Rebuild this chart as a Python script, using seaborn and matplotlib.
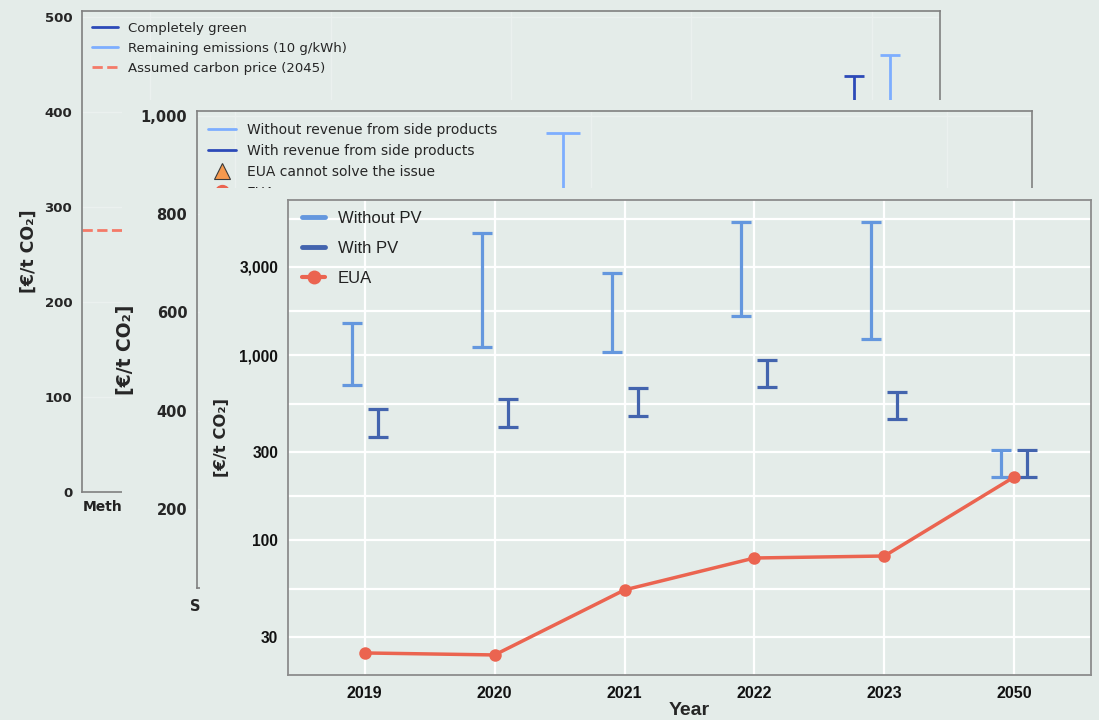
import numpy as np
import matplotlib
matplotlib.use("Agg")
import matplotlib.pyplot as plt
from matplotlib.patches import Rectangle
from matplotlib.lines import Line2D
import matplotlib.ticker as mticker
import seaborn as sns

# ---------------- data ----------------
# back panel (linear scale)
p1_tick_labels = ["Methanol", "", "", "", ""]
p1_cat_index = [4]
p1_green_low = [370]
p1_green_high = [438]
p1_remaining_low = [390]
p1_remaining_high = [460]
p1_carbon_price = 276

# middle panel (linear scale)
p2_tick_labels = ["Steel plant", "", ""]
p2_cat_index = [1]
p2_without_low = [700]
p2_without_high = [965]

# front panel (log scale)
p3_years = ["2019", "2020", "2021", "2022", "2023", "2050"]
p3_without_low = [688, 1105, 1038, 1625, 1220, 219]
p3_without_high = [1489, 4570, 2775, 5235, 5235, 306]
p3_with_low = [360, 408, 468, 671, 451, 219]
p3_with_high = [511, 578, 663, 940, 631, 306]
p3_eua = [24.6, 24.0, 53.9, 80.2, 82.2, 220]
p3_yticks = [30, 100, 300, 1000, 3000]

# ---------------- style ----------------
sns.set_style("white")
plt.rcParams["font.family"] = ["DejaVu Sans"]
BG = "#E4ECE9"
DARK1, LIGHT1, RED1 = "#2C4AB8", "#7DAEFF", "#F47A68"
LIGHT3, DARK3, RED3 = "#6497DE", "#4364AE", "#EB6450"
SPINE = "#808080"

W, H = 1099, 720


def rect(l, t, r, b):
    return [l / W, 1 - b / H, (r - l) / W, (b - t) / H]


fig = plt.figure(figsize=(W / 100, H / 100), dpi=100, facecolor=BG)


def style_box(ax, color=SPINE, lw=1.2):
    ax.set_facecolor(BG)
    for s in ax.spines.values():
        s.set_visible(True)
        s.set_color(color)
        s.set_linewidth(lw)


def errbars(ax, x, low, high, color, lw, capsize, zorder=3):
    low = np.asarray(low, float)
    high = np.asarray(high, float)
    ax.errorbar(x, high, yerr=[high - low, np.zeros_like(high)], fmt="none",
                ecolor=color, elinewidth=lw, capsize=capsize, capthick=lw,
                zorder=zorder)


# ================= panel 1 (back) =================
ax1 = fig.add_axes(rect(82, 11, 940, 492))
ax1.set_zorder(1)
style_box(ax1)
x1 = np.arange(len(p1_tick_labels))
ax1.set_xlim(-0.377, 4.377)
ax1.set_ylim(0, 506)
ax1.axhline(p1_carbon_price, color=RED1, lw=2, ls="--", zorder=2)
idx = np.array(p1_cat_index)
errbars(ax1, idx - 0.1, p1_green_low, p1_green_high, DARK1, 2, 7)
errbars(ax1, idx + 0.1, p1_remaining_low, p1_remaining_high, LIGHT1, 2, 7)
ax1.set_xticks(x1)
ax1.set_xticklabels([""] * len(x1))
# first category label (only its start is visible behind the middle panel)
ax1.annotate(p1_tick_labels[0], xy=(x1[0], 0), xycoords=("data", "axes fraction"),
             xytext=(-48.7, -6), textcoords="offset points", ha="left", va="top",
             fontsize=10, fontweight="bold", color="#222222")
ax1.set_yticks([0, 100, 200, 300, 400, 500])
ax1.tick_params(axis="y", labelsize=9.5, length=4, color=SPINE, pad=3)
ax1.tick_params(axis="x", length=0, pad=6)
for t in ax1.get_yticklabels():
    t.set_fontweight("bold")
ax1.grid(True, color="#EBF1EF", lw=1)
ax1.set_axisbelow(True)
ax1.set_ylabel("[€/t CO₂]", fontsize=12.5, fontweight="bold")
ax1.yaxis.set_label_coords(-0.052, 0.5)
h1 = [Line2D([], [], color=DARK1, lw=2),
      Line2D([], [], color=LIGHT1, lw=2),
      Line2D([], [], color=RED1, lw=2, ls="--")]
ax1.legend(h1, ["Completely green", "Remaining emissions (10 g/kWh)",
                "Assumed carbon price (2045)"],
           loc="upper left", bbox_to_anchor=(0.0117, 0.977), borderpad=0,
           borderaxespad=0, frameon=False, fontsize=9.5, handletextpad=0.7,
           labelspacing=0.52)

# frame of middle panel
fig.add_artist(Rectangle((122 / W, 0), 1 - 122 / W, 1 - 100 / H,
                         transform=fig.transFigure, facecolor=BG,
                         edgecolor="none", zorder=2))

# ================= panel 2 (middle) =================
ax2 = fig.add_axes(rect(197, 111, 1032, 588))
ax2.set_zorder(3)
style_box(ax2)
x2 = np.arange(len(p2_tick_labels))
ax2.set_xlim(-0.107, 2.239)
ax2.set_ylim(39, 1010)
idx2 = np.array(p2_cat_index)
errbars(ax2, idx2 - 0.08, p2_without_low, p2_without_high, LIGHT1, 2, 12.5)
ax2.set_xticks(x2)
ax2.set_xticklabels(p2_tick_labels, fontsize=10.5, fontweight="bold")
ax2.set_yticks([200, 400, 600, 800, 1000])
ax2.yaxis.set_major_formatter(mticker.FuncFormatter(lambda v, p: f"{int(v):,}"))
ax2.tick_params(axis="y", labelsize=10.5, length=5, color=SPINE, pad=2)
ax2.tick_params(axis="x", length=0, pad=8)
for t in ax2.get_yticklabels():
    t.set_fontweight("bold")
ax2.grid(True, color="#EBF1EF", lw=1)
ax2.set_axisbelow(True)
ax2.set_ylabel("[€/t CO₂]", fontsize=13.5, fontweight="bold")
ax2.yaxis.set_label_coords(-0.074, 0.5)
h2 = [Line2D([], [], color=LIGHT1, lw=2),
      Line2D([], [], color=DARK1, lw=2),
      Line2D([], [], ls="none", marker="^", ms=11, mfc="#F5994E", mec="#3A3A3A",
             mew=0.8),
      Line2D([], [], color="#F7B3A8", lw=2, marker="o", ms=10, mfc=RED3,
             mec=RED3)]
ax2.legend(h2, ["Without revenue from side products",
                "With revenue from side products",
                "EUA cannot solve the issue", "EUA"],
           loc="upper left", bbox_to_anchor=(0.0132, 0.975), borderpad=0,
           borderaxespad=0, frameon=False, fontsize=10, handletextpad=0.8,
           labelspacing=0.5)

# frame of front panel
fig.add_artist(Rectangle((200 / W, 0), 1 - 200 / W, 1 - 188 / H,
                         transform=fig.transFigure, facecolor=BG,
                         edgecolor="none", zorder=4))

# ================= panel 3 (front) =================
ax3 = fig.add_axes(rect(288, 200, 1091, 675))
ax3.set_zorder(5)
style_box(ax3, color="#8C8C8C", lw=1.3)
x3 = np.arange(len(p3_years))
errbars(ax3, x3 - 0.1, p3_without_low, p3_without_high, LIGHT3, 2.3, 7.2)
errbars(ax3, x3 + 0.1, p3_with_low, p3_with_high, DARK3, 2.3, 7.2)
sns.lineplot(x=x3, y=p3_eua, ax=ax3, color=RED3, lw=2.5, marker="o",
             markersize=9, markeredgewidth=0, legend=False, zorder=4)
ax3.set_yscale("log")
ax3.set_ylim(18.7, 6900)
ax3.set_xlim(-0.59, 5.59)
ax3.set_yticks(p3_yticks)
ax3.yaxis.set_major_formatter(mticker.FuncFormatter(lambda v, p: f"{int(v):,}"))
minor = [np.sqrt(a * b) for a, b in zip(p3_yticks[:-1], p3_yticks[1:])]
minor = [np.sqrt(10 * 30)] + minor + [np.sqrt(3000 * 10000)]
ax3.yaxis.set_minor_locator(mticker.FixedLocator(minor))
ax3.yaxis.set_minor_formatter(mticker.NullFormatter())
ax3.set_xticks(x3)
ax3.set_xticklabels(p3_years)
ax3.tick_params(axis="both", which="major", length=4, color="#444444",
                width=1, labelcolor="#111111")
ax3.tick_params(axis="y", which="minor", length=0)
ax3.tick_params(axis="x", pad=4)
ax3.tick_params(axis="y", pad=3)
for t in ax3.get_xticklabels():
    t.set_fontfamily(["Liberation Sans", "DejaVu Sans"])
    t.set_fontweight("bold")
    t.set_fontsize(11.5)
for t in ax3.get_yticklabels():
    t.set_fontfamily(["Liberation Sans", "DejaVu Sans"])
    t.set_fontweight("bold")
    t.set_fontsize(11.2)
ax3.grid(True, which="both", axis="y", color="white", lw=1.6)
ax3.grid(True, which="major", axis="x", color="white", lw=1.6)
ax3.set_axisbelow(True)
ax3.set_ylabel("[€/t CO₂]", fontsize=11.8, fontweight="bold")
ax3.yaxis.set_label_coords(-0.0735, 0.5)
ax3.set_xlabel("Year", fontsize=14, fontweight="bold",
               family=["Liberation Sans", "DejaVu Sans"])
ax3.xaxis.set_label_coords(0.5, -0.056)
h3 = [Line2D([], [], color=LIGHT3, lw=3.5),
      Line2D([], [], color=DARK3, lw=3.5),
      Line2D([], [], color=RED3, lw=3, marker="o", ms=10, mew=0)]
leg3 = ax3.legend(h3, ["Without PV", "With PV", "EUA"], loc="upper left",
                  bbox_to_anchor=(0.0174, 0.977), borderpad=0, borderaxespad=0,
                  frameon=False, handlelength=1.4, handletextpad=0.75,
                  labelspacing=0.9,
                  prop={"family": ["Liberation Sans", "DejaVu Sans"], "size": 12})
for t in leg3.get_texts():
    t.set_color("#222222")

fig.savefig("out.png", dpi=100, facecolor=BG)
